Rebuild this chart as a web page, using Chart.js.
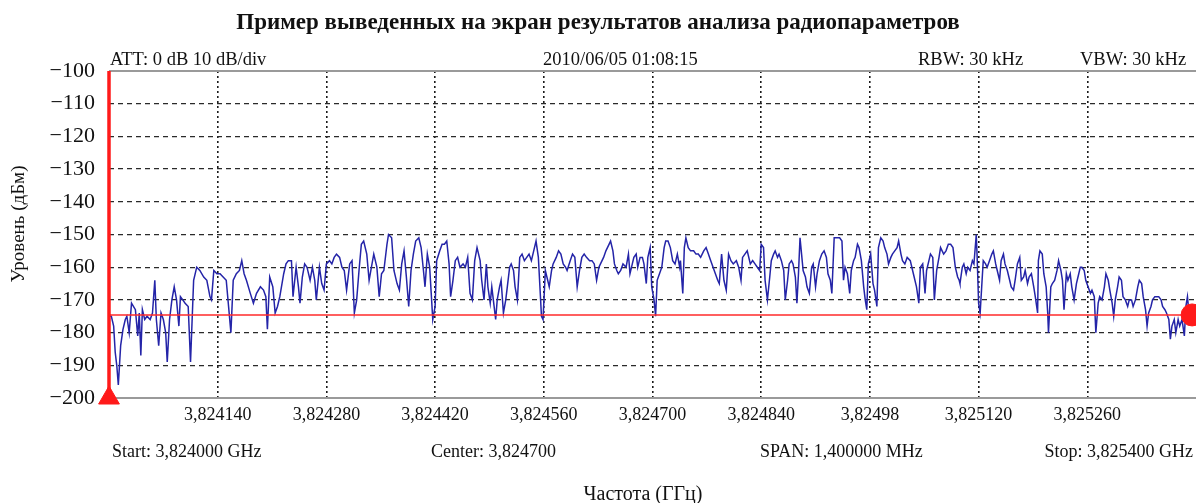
<!DOCTYPE html>
<html>
<head>
<meta charset="utf-8">
<script src="https://cdn.jsdelivr.net/npm/chart.js@4"></script>
<style>
  html, body { margin: 0; padding: 0; background: #fff; }
  #wrap { width: 1196px; height: 503px; position: relative; }
</style>
</head>
<body>
<div id="wrap"><canvas id="c" width="1196" height="503"></canvas></div>
<script>
// ---- Data ----
const chartTitle = "Пример выведенных на экран результатов анализа радиопараметров";
const yAxisTitle = "Уровень (дБм)";
const xAxisTitle = "Частота (ГГц)";
const headerTexts = ["ATT: 0 dB 10 dB/div", "2010/06/05 01:08:15", "RBW: 30 kHz", "VBW: 30 kHz"];
const footerTexts = ["Start: 3,824000 GHz", "Center: 3,824700", "SPAN: 1,400000 MHz", "Stop: 3,825400 GHz"];
// x ticks: offset from start frequency in kHz, with the printed labels
const xTickLabels = ["3,824140", "3,824280", "3,824420", "3,824560", "3,824700", "3,824840", "3,82498", "3,825120", "3,825260"];
const spanKHz = 1400;
const xStepKHz = 140;
const yMin = -200, yMax = -100, yStep = 10;
const refLevel = -174.6;       // red marker line (dBm)
const markerFreq = 1395;       // red round marker position (kHz offset)

// trace: frequency offset from start (kHz) and level (dBm)
const traceFreq = [
0,3,6,8,10,12,13,15,18,21,23,26,29,34,37,39,41,43,46,49,53,56,59,61,64,67,70,73,75,78,81,84,87,90,92,95,98,102,105,109,113,117,122,126,130,132,135,139,143,147,151,154,157,160,164,168,171,174,177,182,186,190,195,199,202,204,207,211,214,217,220,225,228,231,235,237,241,244,246,249,252,255,259,262,265,267,271,274,277,280,284,287,290,293,297,300,303,306,310,313,316,319,322,325,328,332,335,338,341,345,348,351,354,358,360,364,367,371,374,
377,380,383,386,389,392,395,399,402,405,407,410,413,415,417,420,422,426,429,432,435,438,440,443,446,449,452,456,459,462,465,468,471,474,478,480,483,486,488,491,493,496,498,500,503,505,508,511,513,516,518,521,523,526,529,532,535,538,541,544,547,550,553,555,557,559,562,565,567,570,572,576,579,582,585,588,590,594,597,600,603,606,609,612,615,619,622,625,628,631,633,637,640,644,646,649,651,654,656,659,662,666,669,671,674,676,679,681,684,687,689,692,694,697,699,702,704,706,709,712,715,717,720,723,726,729,732,735,
736,739,741,743,746,749,753,756,759,762,766,769,772,775,778,781,784,786,789,792,795,798,801,804,808,811,814,816,819,822,826,829,832,835,838,840,843,845,848,851,853,856,858,861,863,866,869,871,874,876,879,881,884,886,888,890,892,894,897,899,902,905,907,910,912,915,918,921,924,926,929,931,934,937,941,944,946,948,951,954,956,959,961,964,966,969,972,974,976,978,981,984,986,989,991,994,997,999,1002,1004,1007,1009,1012,1015,1017,1020,1022,1025,1028,1032,1035,1037,1040,1043,1045,1048,1051,1053,1056,1058,1061,1063,1066,1069,1071,1075,1078,1081,1084,1087,1090,1093,1095,
1096,1099,1101,1104,1106,1109,1112,1114,1117,1118,1120,1122,1124,1126,1129,1131,1134,1137,1139,1142,1144,1147,1149,1152,1154,1157,1160,1162,1165,1167,1170,1173,1175,1178,1180,1183,1185,1188,1191,1193,1196,1197,1199,1202,1204,1207,1209,1210,1213,1215,1218,1221,1223,1226,1228,1230,1233,1235,1238,1240,1243,1246,1248,1251,1253,1256,1258,1261,1264,1266,1269,1271,1274,1276,1279,1282,1284,1287,1289,1292,1294,1296,1299,1301,1304,1306,1309,1312,1314,1317,1319,1322,1325,1327,1330,1332,1335,1337,1339,1342,1344,1347,1349,1352,1355,1357,1360,1362,1365,1367,1369,1372,1374,1377,1379,1382,1385,1387,1389,1391,1393
];
const traceLevel = [
-175,-175,-178,-186,-190,-196,-192,-184,-179,-176,-175,-180,-171,-173,-181,-174,-187,-173,-176,-175,-176,-174,-164,-176,-184,-174,-176,-180,-189,-176,-170,-166,-170,-178,-169,-170,-171,-172,-189,-164,-160,-161,-163,-164,-169,-170,-161,-162,-162,-163,-164,-172,-180,-164,-162,-161,-158,-162,-164,-168,-171,-168,-166,-167,-169,-179,-163,-166,-174,-172,-169,-162,-159,-158,-158,-169,-160,-166,-171,-163,-159,-160,-164,-160,-164,-170,-160,-165,-167,-159,-158,-159,-157,-156,-157,-160,-161,-167,-159,-158,-174,-170,-161,-153,-152,-156,-164,-160,-156,-160,-169,-162,-161,-153,-150,-151,-161,-165,-167,
-159,-155,-163,-172,-161,-156,-152,-151,-154,-161,-166,-156,-160,-168,-176,-172,-158,-155,-153,-153,-152,-159,-169,-164,-158,-157,-160,-159,-160,-157,-168,-170,-158,-154,-158,-164,-170,-159,-166,-171,-166,-172,-176,-170,-166,-164,-174,-170,-166,-160,-159,-161,-166,-170,-157,-156,-158,-157,-156,-158,-155,-152,-157,-166,-175,-176,-161,-164,-166,-161,-159,-157,-155,-156,-159,-160,-161,-158,-156,-157,-166,-161,-157,-156,-157,-158,-158,-159,-164,-160,-159,-157,-155,-153,-152,-155,-159,-161,-162,-161,-159,-160,-156,-162,-159,-157,-156,-160,-157,-157,-159,-165,-157,-154,-166,-170,-175,-164,-162,-160,-154,-152,-152,-154,-158,-159,-156,-160,
-158,-168,-154,-151,-154,-155,-155,-156,-156,-157,-155,-154,-156,-158,-160,-162,-164,-165,-156,-164,-167,-156,-158,-159,-158,-160,-164,-157,-156,-155,-159,-158,-159,-160,-161,-153,-154,-164,-170,-163,-158,-156,-155,-157,-156,-158,-161,-170,-164,-159,-158,-159,-163,-171,-162,-151,-156,-161,-163,-166,-168,-160,-159,-166,-162,-158,-156,-155,-157,-162,-164,-168,-151,-151,-151,-152,-164,-160,-162,-168,-161,-158,-157,-153,-154,-158,-166,-170,-173,-159,-156,-165,-167,-172,-154,-151,-152,-154,-156,-159,-157,-156,-155,-154,-152,-156,-158,-159,-157,-158,-161,-163,-166,-171,-160,-159,-168,-161,-158,-156,-157,-170,-161,-157,-154,-156,-155,-153,-153,-154,-160,-163,-164,
-165,-160,-159,-162,-160,-161,-158,-159,-150,-156,-171,-174,-166,-158,-159,-160,-158,-156,-155,-159,-161,-164,-158,-156,-159,-161,-164,-166,-167,-164,-159,-157,-164,-163,-161,-165,-163,-162,-166,-169,-174,-158,-155,-156,-162,-166,-174,-180,-166,-165,-164,-161,-158,-161,-164,-173,-162,-164,-162,-166,-170,-165,-163,-160,-160,-161,-164,-166,-168,-167,-169,-180,-171,-169,-170,-166,-162,-164,-167,-171,-175,-170,-166,-163,-164,-169,-170,-172,-170,-170,-172,-170,-166,-164,-165,-169,-173,-178,-174,-172,-170,-169,-169,-169,-170,-172,-173,-174,-176,-182,-178,-176,-180,-176,-178,-176,-181,-172,-169,-174,-175
];

// ---- Build chart ----
const tracePts = traceFreq.map((f, i) => ({ x: f, y: traceLevel[i] }));
const SERIF = "'Liberation Serif', 'DejaVu Serif', serif";

const overlayPlugin = {
  id: 'overlay',
  beforeDatasetsDraw(chart) {
    const { ctx, chartArea: a } = chart;
    ctx.save();
    ctx.strokeStyle = '#9a9a9a';
    ctx.lineWidth = 2;
    ctx.beginPath();
    ctx.moveTo(a.left, a.top); ctx.lineTo(a.right, a.top);
    ctx.moveTo(a.left, a.bottom); ctx.lineTo(a.right, a.bottom);
    ctx.stroke();
    ctx.restore();
  },
  afterDraw(chart) {
    const { ctx } = chart;
    ctx.save();
    ctx.fillStyle = '#111';
    // title
    ctx.font = "bold 23px " + SERIF;
    ctx.textAlign = 'center';
    ctx.textBaseline = 'alphabetic';
    ctx.fillText(chartTitle, 598, 29);
    // header row
    ctx.font = "18.5px " + SERIF;
    ctx.textAlign = 'left';
    ctx.fillText(headerTexts[0], 110, 65);
    ctx.fillText(headerTexts[1], 543, 65);
    ctx.fillText(headerTexts[2], 918, 65);
    ctx.fillText(headerTexts[3], 1080, 65);
    // footer row
    ctx.font = "18px " + SERIF;
    ctx.fillText(footerTexts[0], 112, 457);
    ctx.fillText(footerTexts[1], 431, 457);
    ctx.fillText(footerTexts[2], 760, 457);
    ctx.textAlign = 'right';
    ctx.fillText(footerTexts[3], 1193, 457);
    // x axis title
    ctx.textAlign = 'center';
    ctx.font = "20px " + SERIF;
    ctx.fillText(xAxisTitle, 643, 500);
    // y axis title
    ctx.translate(24, 224);
    ctx.rotate(-Math.PI / 2);
    ctx.font = "19px " + SERIF;
    ctx.fillText(yAxisTitle, 0, 0);
    ctx.restore();
  }
};

new Chart(document.getElementById('c'), {
  type: 'line',
  data: {
    datasets: [
      {
        label: 'trace',
        data: tracePts,
        borderColor: '#2424a8',
        borderWidth: 1.5,
        pointRadius: 0,
        tension: 0,
        order: 3
      },
      {
        label: 'ref',
        data: [{ x: 0, y: refLevel }, { x: spanKHz, y: refLevel }],
        borderColor: '#ff2a2a',
        borderWidth: 1.5,
        pointRadius: 0,
        order: 2
      },
      {
        label: 'left marker line',
        data: [{ x: 0, y: yMin }, { x: 0, y: yMax }],
        borderColor: '#ff1a1a',
        borderWidth: 3.5,
        pointRadius: 0,
        clip: false,
        order: 1
      },
      {
        label: 'triangle',
        data: [{ x: 0, y: yMin }],
        showLine: false,
        pointStyle: 'triangle',
        pointRadius: 12,
        pointBackgroundColor: '#ff1a1a',
        pointBorderColor: '#ff1a1a',
        pointBorderWidth: 1,
        clip: false,
        order: 0
      },
      {
        label: 'circle',
        data: [{ x: markerFreq, y: refLevel }],
        showLine: false,
        pointStyle: 'circle',
        pointRadius: 11,
        pointBackgroundColor: '#ff1a1a',
        pointBorderColor: '#ff1a1a',
        clip: false,
        order: 0
      }
    ]
  },
  options: {
    responsive: false,
    animation: false,
    events: [],
    layout: { autoPadding: false, padding: { top: 71, left: 0, right: 0, bottom: 0 } },
    plugins: { legend: { display: false }, title: { display: false }, tooltip: { enabled: false } },
    scales: {
      x: {
        type: 'linear',
        min: 0, max: spanKHz,
        afterFit(s) { s.height = 105; s.paddingRight = 0; s.paddingLeft = 0; },
        afterBuildTicks(s) {
          const t = [];
          for (let i = 0; i <= spanKHz / xStepKHz; i++) t.push({ value: i * xStepKHz });
          s.ticks = t;
        },
        ticks: {
          autoSkip: false,
          maxRotation: 0,
          padding: 6,
          color: '#111',
          font: { family: SERIF, size: 18 },
          callback(v) {
            const i = Math.round(v / xStepKHz) - 1;
            return (i >= 0 && i < xTickLabels.length) ? xTickLabels[i] : '';
          }
        },
        grid: {
          drawTicks: false,
          color: (c) => (c.tick && (c.tick.value === 0 || c.tick.value === spanKHz)) ? 'rgba(0,0,0,0)' : '#1a1a1a',
          lineWidth: 1.6
        },
        border: { display: false, dash: [2, 3] },
        title: { display: false }
      },
      y: {
        type: 'linear',
        min: yMin, max: yMax,
        afterFit(s) { s.width = 109; },
        ticks: {
          stepSize: yStep,
          padding: 14,
          color: '#111',
          font: { family: SERIF, size: 22 },
          callback(v) { return String(v).replace('-', '\u2212'); }
        },
        grid: {
          drawTicks: false,
          color: (c) => (c.tick && (c.tick.value === yMin || c.tick.value === yMax)) ? 'rgba(0,0,0,0)' : '#2a2a2a',
          lineWidth: 1.3
        },
        border: { display: false, dash: [5, 4] },
        title: { display: false }
      }
    }
  },
  plugins: [overlayPlugin]
});
</script>
</body>
</html>
